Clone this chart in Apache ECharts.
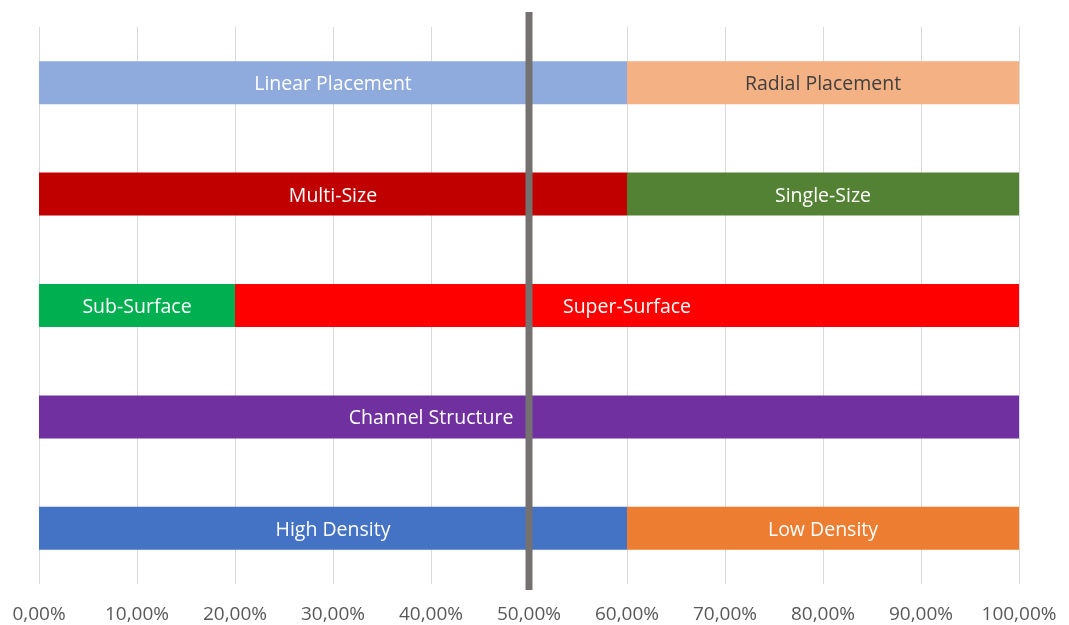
<!DOCTYPE html>
<html><head><meta charset="utf-8">
<script src="https://cdn.jsdelivr.net/npm/echarts@6/dist/echarts.min.js"></script>
<style>html,body{margin:0;padding:0;background:#fff}#c{width:1069px;height:625px}</style>
</head><body><div id="c"></div>
<script>
// rows bottom->top
const categories = ['Density', 'Channel', 'Surface', 'Size', 'Placement'];
const seg1Names = ['High Density', 'Channel Structure', 'Sub-Surface', 'Multi-Size', 'Linear Placement'];
const seg1Values = [60, 80, 20, 60, 60];
const seg1Colors = ['#4472C4', '#7030A0', '#00B050', '#C00000', '#8FAADC'];
const seg2Names = ['Low Density', '', 'Super-Surface', 'Single-Size', 'Radial Placement'];
const seg2Values = [40, 20, 80, 40, 40];
const seg2Colors = ['#ED7D31', '#7030A0', '#FF0000', '#548235', '#F4B183'];
const seg2LabelColors = ['#fff', '#fff', '#fff', '#fff', '#404040'];
const xTicks = [0,10,20,30,40,50,60,70,80,90,100];
const dividerAt = 50;

const font = 'Open Sans';
function mk(vals, names, colors, lblColors){
  return vals.map((v,i)=>({
    value: v, name: names[i],
    itemStyle:{color: colors[i]},
    label:{show: !!names[i], formatter: names[i], color: lblColors ? lblColors[i] : '#fff'}
  }));
}
const chart = echarts.init(document.getElementById('c'));
chart.setOption({
  animation:false,
  grid:{left:39, right:50, top:27, bottom:41, containLabel:false},
  xAxis:{type:'value', min:0, max:100, interval:10,
    axisLine:{show:false}, axisTick:{show:false},
    splitLine:{show:true, lineStyle:{color:'#D9D9D9', width:1}},
    axisLabel:{color:'#595959', fontFamily:font, fontSize:19, margin:21,
      formatter: v => v.toFixed(2).replace('.', ',') + '%'}
  },
  yAxis:{type:'category', data:categories, show:false},
  series:[
    {type:'bar', stack:'s', barWidth:43, data: mk(seg1Values, seg1Names, seg1Colors),
     label:{show:true, position:'inside', fontFamily:font, fontSize:19.5, offset:[0,2]}},
    {type:'bar', stack:'s', barWidth:43, data: mk(seg2Values, seg2Names, seg2Colors, seg2LabelColors),
     label:{show:true, position:'inside', fontFamily:font, fontSize:19.5, offset:[0,2]}}
  ]
});
const px = chart.convertToPixel({xAxisIndex:0}, dividerAt);
chart.setOption({graphic:[{type:'line', shape:{x1:px, y1:12, x2:px, y2:590},
  style:{stroke:'#767171', lineWidth:7}, z:100}]});
</script></body></html>
